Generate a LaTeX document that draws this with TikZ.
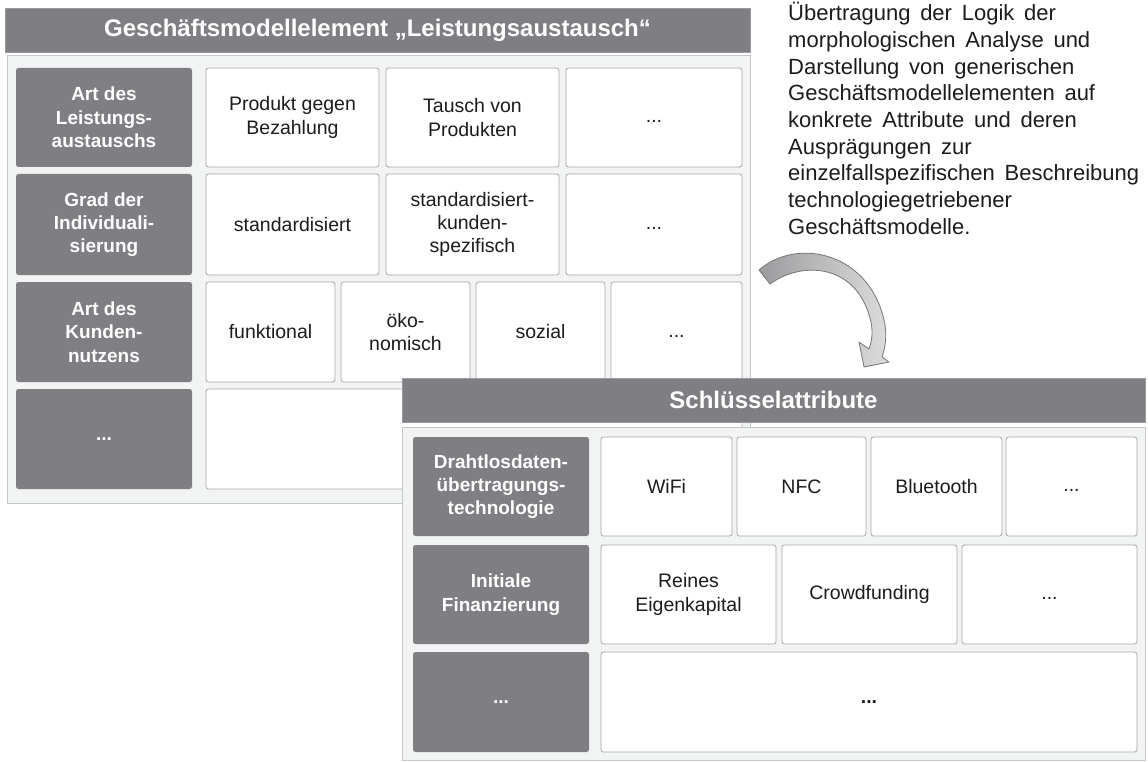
\documentclass[tikz,border=0pt]{standalone}
\usepackage{fontspec}
\setmainfont{Liberation Sans}
\newfontfamily\parafont[WordSpace=1.6]{Liberation Sans}
\definecolor{hdr}{HTML}{7F7F83}
\definecolor{hdrln}{HTML}{9A9A9D}
\definecolor{panelbg}{HTML}{F2F3F3}
\definecolor{panelln}{HTML}{C6C7C8}
\definecolor{cellln}{HTML}{A8A8AA}
\definecolor{txt}{HTML}{1C1C1C}
\definecolor{arrln}{HTML}{767678}
\definecolor{arrdark}{HTML}{9C9C9E}
\definecolor{arrlight}{HTML}{DCDCDD}

% box from corner (x1,y1) to corner (x2,y2), y measured downwards
\newcommand\gbox[7]{%
  \node[#2, minimum width={#5-#3}, minimum height={#6-#4}]
    (#1) at ({(#3+#5)/2},{(#4+#6)/2}) {#7};}
% ellipsis sitting on a text baseline
\newcommand\ellip{\rule{0pt}{10pt}...}

\begin{document}
\begin{tikzpicture}[x=1pt,y=-1pt,
  bar/.style={fill=hdr, draw=hdrln, line width=0.8pt, text=white,
    font=\fontsize{24}{28}\selectfont\bfseries, inner sep=0pt},
  panel/.style={fill=panelbg, draw=panelln, line width=1pt, inner sep=0pt},
  head/.style={fill=hdr, rounded corners=2.5pt, text=white, align=center,
    font=\fontsize{19}{23.3}\selectfont\bfseries, inner sep=0pt},
  cell/.style={fill=white, draw=cellln, line width=0.8pt, rounded corners=2.5pt,
    text=txt, align=center, font=\fontsize{19.5}{23.3}\selectfont, inner sep=0pt},
]
\useasboundingbox (0,0) rectangle (1148,762);

% ---------- generic business model element ----------
\gbox{topbar}{bar}{5}{8}{750}{52}{Geschäftsmodellelement „Leistungsaustausch“}
\gbox{toppanel}{panel}{7}{56}{750}{503}{}

\gbox{hA}{head}{16}{68}{192}{167}{Art des\\Leistungs-\\austauschs}
\gbox{hB}{head}{16}{174}{192}{275}{Grad der\\Individuali-\\sierung}
\gbox{hC}{head}{16}{282}{192}{382}{Art des\\Kunden-\\nutzens}
\gbox{hD}{head}{16}{389}{192}{489}{...}

\gbox{a1}{cell}{206}{68}{379}{167}{Produkt gegen\\Bezahlung}
\gbox{a2}{cell}{386}{68}{559}{167}{Tausch von\\Produkten}
\gbox{a3}{cell}{566}{68}{742}{167}{\ellip}

\gbox{b1}{cell}{206}{174}{379}{275}{standardisiert}
\gbox{b2}{cell}{386}{174}{559}{275}{standardisiert-\\kunden-\\spezifisch}
\gbox{b3}{cell}{566}{174}{742}{275}{\ellip}

\gbox{c1}{cell}{206}{282}{335}{382}{funktional}
\gbox{c2}{cell}{341}{282}{470}{382}{öko-\\nomisch}
\gbox{c3}{cell}{476}{282}{605}{382}{sozial}
\gbox{c4}{cell}{611}{282}{742}{382}{\ellip}

\gbox{d1}{cell}{206}{389}{742}{489}{}

% ---------- explanatory text ----------
\node[anchor=north west, inner sep=0pt, align=left, text=txt,
  font=\parafont\fontsize{22}{26.7}\selectfont] (note) at (788,2)
  {Übertragung der Logik der\\
   morphologischen Analyse und\\
   Darstellung von generischen\\
   Geschäftsmodellelementen auf\\
   konkrete Attribute und deren\\
   Ausprägungen zur\\
   einzelfallspezifischen Beschreibung\\
   technologiegetriebener\\
   Geschäftsmodelle.};

% ---------- curved transfer arrow ----------
\draw[draw=arrln, line width=0.8pt, line join=round,
  left color=arrdark, right color=arrlight]
  (759,270) .. controls (798,236) and (872,253) .. (885,325)
  .. controls (887,337) and (885,348) .. (882,357)
  -- (889,362) -- (864,367) -- (859,342) -- (869,349)
  .. controls (872,340) and (873,333) .. (871,322)
  .. controls (858,264) and (803,260) .. (770,284) -- cycle;

% ---------- key attributes ----------
\gbox{botbar}{bar}{402}{378}{1145}{422}{Schlüsselattribute}
\gbox{botpanel}{panel}{402}{427}{1145}{760}{}

\gbox{k1}{head}{413}{437}{589}{536}{Drahtlosdaten-\\übertragungs-\\technologie}
\gbox{k2}{head}{413}{545}{589}{644}{Initiale\\Finanzierung}
\gbox{k3}{head}{413}{652}{589}{752}{...}

\gbox{w1}{cell}{601}{437}{732}{536}{WiFi}
\gbox{w2}{cell}{737}{437}{866}{536}{NFC}
\gbox{w3}{cell}{871}{437}{1002}{536}{Bluetooth}
\gbox{w4}{cell}{1006}{437}{1137}{536}{\ellip}

\gbox{f1}{cell}{601}{545}{776}{644}{Reines\\Eigenkapital}
\gbox{f2}{cell}{782}{545}{957}{644}{Crowdfunding}
\gbox{f3}{cell}{962}{545}{1137}{644}{\ellip}

\gbox{e1}{cell}{601}{652}{1137}{752}{\bfseries ...}
\end{tikzpicture}
\end{document}
